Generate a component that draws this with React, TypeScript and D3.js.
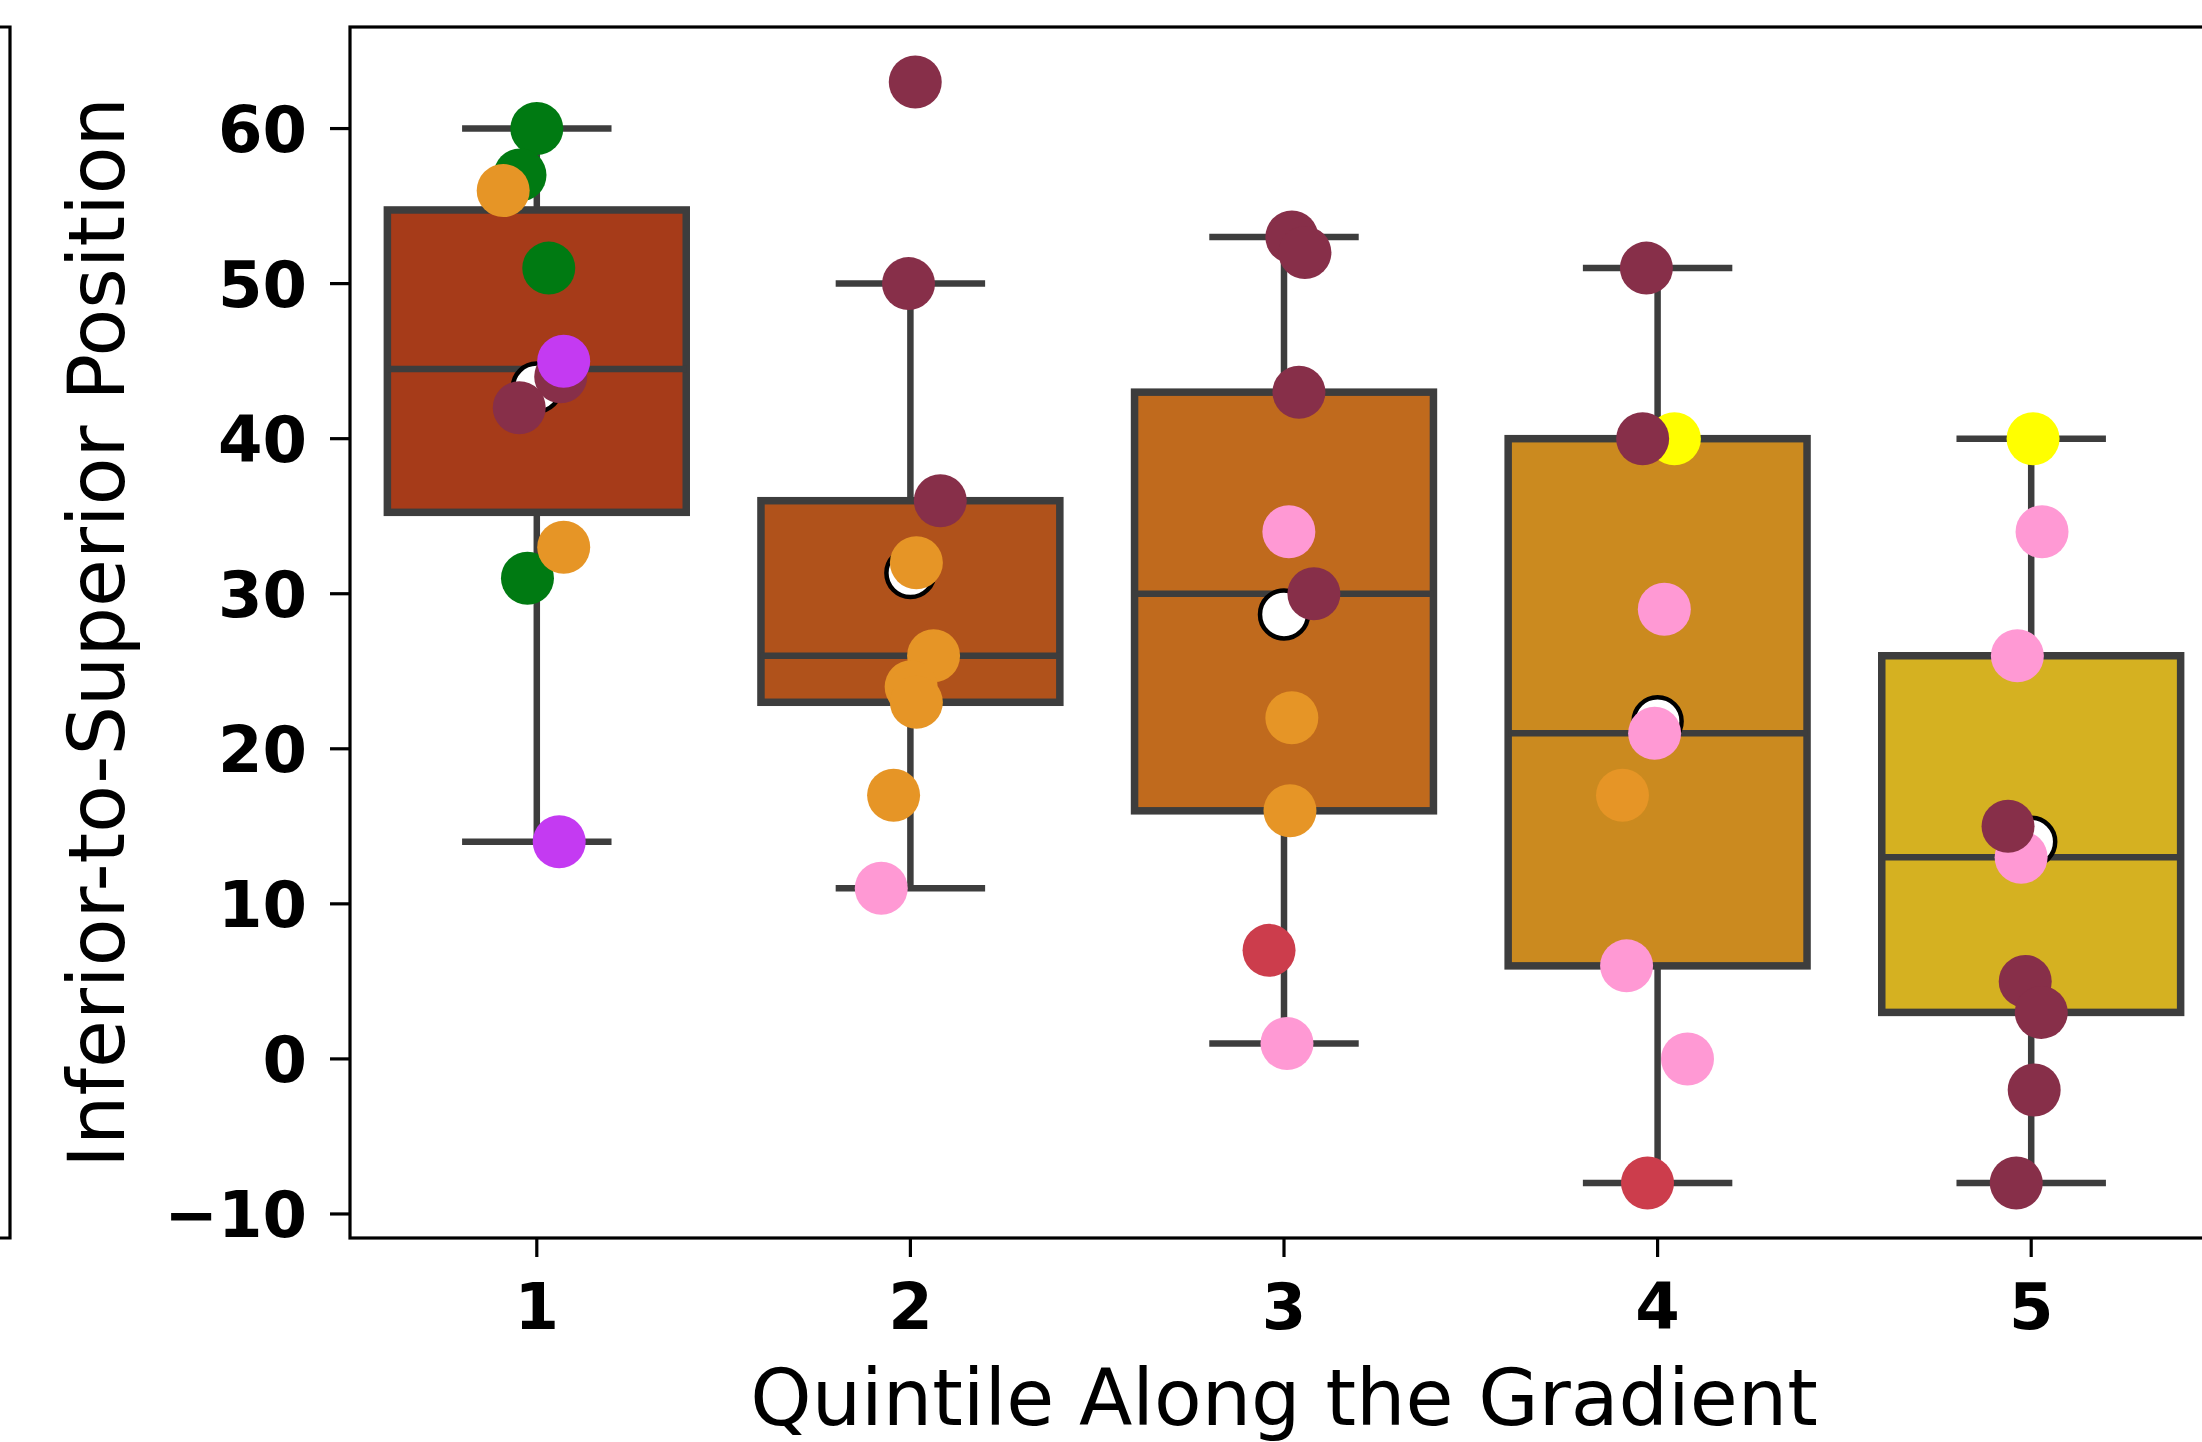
import React from "react";
import * as d3 from "d3";

// ---------- data ----------
const quintiles = ["1", "2", "3", "4", "5"];
const yTicks = [-10, 0, 10, 20, 30, 40, 50, 60];
const boxColors = ["#A63B19", "#B0521B", "#C06A1D", "#CB8A1F", "#D5B121"];

// point values, horizontal jitter (category units) and colour group per quintile
const q1Values = [60, 57, 56, 51, 45, 44, 42, 33, 31, 14];
const q1Jitter = [0.0, -0.045, -0.09, 0.032, 0.072, 0.064, -0.047, 0.072, -0.025, 0.06];
const q1Groups = ["green", "green", "orange", "green", "magenta", "maroon", "maroon", "orange", "green", "magenta"];

const q2Values = [63, 50, 36, 32, 26, 24, 23, 17, 11];
const q2Jitter = [0.013, -0.005, 0.08, 0.016, 0.062, 0.002, 0.016, -0.045, -0.078];
const q2Groups = ["maroon", "maroon", "maroon", "orange", "orange", "orange", "orange", "orange", "pink"];

const q3Values = [53, 52, 43, 34, 30, 22, 16, 7, 1];
const q3Jitter = [0.021, 0.056, 0.04, 0.013, 0.08, 0.021, 0.016, -0.04, 0.008];
const q3Groups = ["maroon", "maroon", "maroon", "pink", "maroon", "orange", "orange", "red", "pink"];

const q4Values = [51, 40, 40, 29, 21, 17, 6, 0, -8];
const q4Jitter = [-0.03, -0.04, 0.045, 0.018, -0.008, -0.094, -0.083, 0.08, -0.027];
const q4Groups = ["maroon", "maroon", "yellow", "pink", "pink", "orange", "pink", "pink", "red"];

const q5Values = [40, 34, 26, 15, 13, 5, 3, -2, -8];
const q5Jitter = [0.005, 0.029, -0.037, -0.062, -0.027, -0.016, 0.027, 0.008, -0.04];
const q5Groups = ["yellow", "pink", "pink", "maroon", "pink", "maroon", "maroon", "maroon", "maroon"];

const allValues = [q1Values, q2Values, q3Values, q4Values, q5Values];
const allJitter = [q1Jitter, q2Jitter, q3Jitter, q4Jitter, q5Jitter];
const allGroups = [q1Groups, q2Groups, q3Groups, q4Groups, q5Groups];

const groupOrder = ["green", "orange", "pink", "red", "yellow", "maroon", "magenta"];
const groupColors: Record<string, string> = {
  green: "#007A12",
  orange: "#E69526",
  pink: "#FF99D4",
  red: "#CC3D4C",
  yellow: "#FFFF00",
  maroon: "#872F49",
  magenta: "#C43AF2",
};

const xLabel = "Quintile Along the Gradient";
const yLabel = "Inferior-to-Superior Position";

// ---------- layout ----------
const W = 2202;
const H = 1442;
const plotLeft = 350;
const plotRight = 2218;
const plotTop = 27;
const plotBottom = 1238;
const FONT = "'DejaVu Sans', sans-serif";
const LINE = "#3D3D3D";

function stats(vals: number[]) {
  const s = [...vals].sort((a, b) => a - b);
  const q1 = d3.quantile(s, 0.25)!;
  const med = d3.quantile(s, 0.5)!;
  const q3 = d3.quantile(s, 0.75)!;
  const iqr = q3 - q1;
  const lo = d3.min(s.filter((v) => v >= q1 - 1.5 * iqr))!;
  const hi = d3.max(s.filter((v) => v <= q3 + 1.5 * iqr))!;
  const mean = d3.mean(s)!;
  return { q1, med, q3, lo, hi, mean };
}

export default function App() {
  const flat = allValues.flat();
  const ext = d3.extent(flat) as [number, number];
  const pad = (ext[1] - ext[0]) * 0.05;
  const y = d3.scaleLinear().domain([ext[0] - pad, ext[1] + pad]).range([plotBottom, plotTop]);
  const x = d3.scaleLinear().domain([-0.5, quintiles.length - 0.5]).range([plotLeft, plotRight]);
  const unit = x(1) - x(0);
  const boxW = 0.8 * unit;
  const capW = 0.4 * unit;
  const fmt = (v: number) => (v < 0 ? "\u2212" + Math.abs(v) : String(v));

  return (
    <svg
      width={W}
      height={H}
      style={{ position: "absolute", left: 0, top: 0, background: "#fff" }}
      fontFamily={FONT}
    >
      <rect x={0} y={0} width={W} height={H} fill="#fff" />
      {/* remnant of neighbouring panel */}
      <path
        d={`M-20,${plotTop} L10,${plotTop} L10,${plotBottom} L-20,${plotBottom}`}
        fill="none"
        stroke="#000"
        strokeWidth={3.2}
      />

      {/* boxes */}
      {allValues.map((vals, i) => {
        const s = stats(vals);
        const cx = x(i);
        return (
          <g key={"box" + i}>
            <line x1={cx} x2={cx} y1={y(s.q3)} y2={y(s.hi)} stroke={LINE} strokeWidth={6.5} />
            <line x1={cx} x2={cx} y1={y(s.q1)} y2={y(s.lo)} stroke={LINE} strokeWidth={6.5} />
            <line x1={cx - capW / 2} x2={cx + capW / 2} y1={y(s.hi)} y2={y(s.hi)} stroke={LINE} strokeWidth={6.5} />
            <line x1={cx - capW / 2} x2={cx + capW / 2} y1={y(s.lo)} y2={y(s.lo)} stroke={LINE} strokeWidth={6.5} />
            <rect
              x={cx - boxW / 2}
              y={y(s.q3)}
              width={boxW}
              height={y(s.q1) - y(s.q3)}
              fill={boxColors[i]}
              stroke={LINE}
              strokeWidth={7.5}
            />
            <line x1={cx - boxW / 2} x2={cx + boxW / 2} y1={y(s.med)} y2={y(s.med)} stroke={LINE} strokeWidth={6.5} />
            <circle cx={cx} cy={y(s.mean)} r={24} fill="#fff" stroke="#000" strokeWidth={4.5} />
          </g>
        );
      })}

      {/* strip points */}
      {allValues.map((vals, i) => {
        const pts = vals
          .map((v, j) => ({ v, dx: allJitter[i][j], g: allGroups[i][j] }))
          .sort((a, b) => groupOrder.indexOf(a.g) - groupOrder.indexOf(b.g));
        return (
          <g key={"pts" + i}>
            {pts.map((p, j) => (
              <circle key={j} cx={x(i + p.dx)} cy={y(p.v)} r={26.5} fill={groupColors[p.g]} />
            ))}
          </g>
        );
      })}

      {/* frame */}
      <rect
        x={plotLeft}
        y={plotTop}
        width={plotRight - plotLeft}
        height={plotBottom - plotTop}
        fill="none"
        stroke="#000"
        strokeWidth={3.2}
      />

      {/* y axis ticks */}
      {yTicks.map((t) => (
        <g key={"yt" + t}>
          <line x1={plotLeft - 20} x2={plotLeft} y1={y(t)} y2={y(t)} stroke="#000" strokeWidth={3.2} />
          <text x={307} y={y(t) + 23} textAnchor="end" fontSize={64} fontWeight="bold" fill="#000">
            {fmt(t)}
          </text>
        </g>
      ))}

      {/* x axis ticks */}
      {quintiles.map((q, i) => (
        <g key={"xt" + q}>
          <line x1={x(i)} x2={x(i)} y1={plotBottom} y2={plotBottom + 19} stroke="#000" strokeWidth={3.2} />
          <text x={x(i)} y={1329} textAnchor="middle" fontSize={64} fontWeight="bold" fill="#000">
            {q}
          </text>
        </g>
      ))}

      {/* axis labels */}
      <text x={(plotLeft + plotRight) / 2} y={1425} textAnchor="middle" fontSize={78} fill="#000">
        {xLabel}
      </text>
      <text
        transform={`translate(124, ${(plotTop + plotBottom) / 2}) rotate(-90)`}
        textAnchor="middle"
        fontSize={78}
        fill="#000"
      >
        {yLabel}
      </text>
    </svg>
  );
}
